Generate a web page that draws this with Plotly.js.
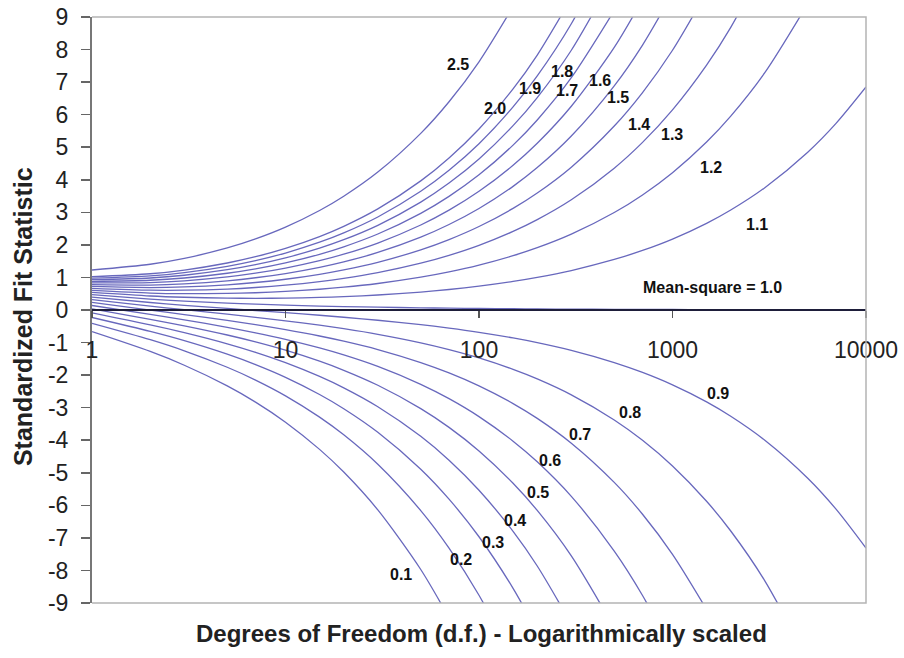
<!DOCTYPE html>
<html><head><meta charset="utf-8">
<script src="https://cdn.plot.ly/plotly-3.0.1.min.js"></script>
<style>html,body{margin:0;padding:0;background:#fff}#chart{width:904px;height:658px}</style>
</head><body><div id="chart"></div>
<script>
// Degrees of freedom (x) sample points
const df = [1,2,3,5,7,10,15,20,30,50,70,100,150,200,300,500,700,1000,1500,2000,3000,5000,7000,10000];

// Standardized fit statistic read for each mean-square curve
const ms25 = [1.229,1.405,1.585,1.905,2.183,2.545,3.056,3.494,4.236,5.425,6.396,7.625,9.319];
const ms20 = [1.023,1.113,1.227,1.444,1.637,1.893,2.257,2.571,3.106,3.966,4.670,5.561,6.792,7.831,9.577];
const ms19 = [0.978,1.049,1.149,1.342,1.517,1.750,2.082,2.369,2.858,3.645,4.291,5.108,6.237,7.190,8.792,11.337];
const ms18 = [0.931,0.983,1.067,1.237,1.393,1.601,1.900,2.159,2.601,3.313,3.898,4.638,5.662,6.526,7.979,10.287];
const ms17 = [0.882,0.914,0.983,1.129,1.264,1.447,1.711,1.941,2.334,2.969,3.490,4.151,5.065,5.837,7.135,9.198];
const ms16 = [0.831,0.842,0.895,1.015,1.130,1.287,1.515,1.714,2.057,2.611,3.066,3.645,4.445,5.121,6.259,8.066,9.536];
const ms15 = [0.778,0.767,0.804,0.897,0.990,1.120,1.311,1.478,1.767,2.237,2.625,3.117,3.798,4.374,5.344,6.885,8.139,9.722];
const ms14 = [0.723,0.689,0.708,0.774,0.844,0.945,1.097,1.232,1.465,1.847,2.163,2.565,3.122,3.594,4.388,5.651,6.680,7.978,9.764];
const ms13 = [0.665,0.608,0.608,0.644,0.691,0.762,0.873,0.973,1.148,1.438,1.679,1.986,2.413,2.775,3.385,4.357,5.148,6.146,7.521,8.682,10.628];
const ms12 = [0.604,0.521,0.502,0.508,0.530,0.570,0.637,0.700,0.814,1.007,1.169,1.377,1.667,1.913,2.330,2.994,3.535,4.219,5.161,5.956,7.290,9.407];
const ms11 = [0.540,0.430,0.391,0.364,0.359,0.366,0.387,0.412,0.461,0.551,0.629,0.732,0.877,1.001,1.213,1.552,1.829,2.179,2.663,3.072,3.758,4.847,5.732,6.850];
const ms10 = [0.471,0.333,0.272,0.211,0.178,0.149,0.122,0.105,0.086,0.067,0.056,0.047,0.039,0.033,0.027,0.021,0.018,0.015,0.012,0.011,0.009,0.007,0.006,0.005];
const ms09 = [0.398,0.230,0.145,0.047,-0.015,-0.082,-0.162,-0.222,-0.315,-0.451,-0.556,-0.685,-0.858,-1.002,-1.240,-1.615,-1.919,-2.300,-2.822,-3.263,-4.000,-5.168,-6.118,-7.314];
const ms08 = [0.319,0.118,0.009,-0.129,-0.224,-0.332,-0.467,-0.575,-0.747,-1.008,-1.216,-1.473,-1.824,-2.117,-2.606,-3.378,-4.004,-4.793,-5.876,-6.788,-8.318,-10.743];
const ms07 = [0.234,-0.003,-0.140,-0.321,-0.451,-0.603,-0.799,-0.958,-1.216,-1.615,-1.933,-2.331,-2.874,-3.330,-4.092,-5.296,-6.274,-7.505,-9.198];
const ms06 = [0.139,-0.136,-0.303,-0.532,-0.701,-0.901,-1.165,-1.380,-1.733,-2.282,-2.723,-3.274,-4.029,-4.664,-5.725,-7.405,-8.769,-10.488];
const ms05 = [0.034,-0.286,-0.486,-0.768,-0.980,-1.235,-1.573,-1.852,-2.311,-3.028,-3.605,-4.329,-5.321,-6.156,-7.553,-9.764];
const ms04 = [-0.087,-0.456,-0.695,-1.038,-1.299,-1.617,-2.041,-2.392,-2.972,-3.881,-4.615,-5.536,-6.800,-7.863,-9.643];
const ms03 = [-0.230,-0.658,-0.942,-1.357,-1.677,-2.068,-2.594,-3.031,-3.755,-4.892,-5.811,-6.965,-8.550,-9.884];
const ms02 = [-0.409,-0.912,-1.253,-1.759,-2.152,-2.636,-3.290,-3.834,-4.738,-6.161,-7.313,-8.761,-10.749];
const ms01 = [-0.665,-1.274,-1.697,-2.331,-2.829,-3.446,-4.281,-4.978,-6.140,-7.971,-9.454];

const curveNames = ['2.5','2.0','1.9','1.8','1.7','1.6','1.5','1.4','1.3','1.2','1.1','1.0','0.9','0.8','0.7','0.6','0.5','0.4','0.3','0.2','0.1'];
const curveValues = [ms25,ms20,ms19,ms18,ms17,ms16,ms15,ms14,ms13,ms12,ms11,ms10,ms09,ms08,ms07,ms06,ms05,ms04,ms03,ms02,ms01];

// Curve labels
const labelText = ['2.5','2.0','1.9','1.8','1.7','1.6','1.5','1.4','1.3','1.2','1.1','Mean-square = 1.0','0.9','0.8','0.7','0.6','0.5','0.4','0.3','0.2','0.1'];
const labelDf = [77.8,121,184,269,285,422,522,671,993,1581,2735,1600,1718,603,333,233,202,153,118,80.7,39.5];
const labelZ = [7.53,6.20,6.79,7.34,6.73,7.06,6.54,5.71,5.38,4.39,2.64,0.68,-2.58,-3.16,-3.81,-4.61,-5.62,-6.48,-7.13,-7.65,-8.11];

const xTickVals = [1,10,100,1000,10000];
const xTickText = ['1','10','100','1000','10000'];
const yTickVals = [-9,-8,-7,-6,-5,-4,-3,-2,-1,0,1,2,3,4,5,6,7,8,9];
const yTickText = ['-9','-8','-7','-6','-5','-4','-3','-2','-1','0','1','2','3','4','5','6','7','8','9'];

const FONT = 'Liberation Sans, Arial, sans-serif';
const lineColor = '#6868bd';

const traces = curveValues.map((v, i) => ({
  x: df.slice(0, v.length),
  y: v,
  name: curveNames[i],
  type: 'scatter',
  mode: 'lines',
  line: {color: lineColor, width: 1.3, shape: 'spline', smoothing: 0.8},
  hoverinfo: 'skip',
  showlegend: false
}));

const annotations = labelText.map((t, i) => ({
  x: Math.log10(labelDf[i]), y: labelZ[i], xref: 'x', yref: 'y',
  text: '<b>' + t + '</b>', showarrow: false,
  font: {family: FONT, size: 16, color: '#111'},
  xanchor: 'center', yanchor: 'middle'
}));
annotations.push({
  xref: 'paper', yref: 'paper', x: -0.0891, y: 0.488, textangle: -90,
  text: '<b>Standardized Fit Statistic</b>', showarrow: false,
  font: {family: FONT, size: 25, color: '#222'}, xanchor: 'center', yanchor: 'middle'
});
annotations.push({
  xref: 'paper', yref: 'paper', x: 0.5026, y: -0.0512,
  text: '<b>Degrees of Freedom (d.f.) - Logarithmically scaled</b>', showarrow: false,
  font: {family: FONT, size: 24, color: '#222'}, xanchor: 'center', yanchor: 'middle'
});

const layout = {
  width: 904, height: 658,
  margin: {l: 92, r: 38, t: 17, b: 55},
  paper_bgcolor: '#ffffff', plot_bgcolor: '#ffffff',
  font: {family: FONT, color: '#222'},
  showlegend: false,
  hovermode: false,
  xaxis: {
    type: 'log', range: [0, 4],
    tickvals: xTickVals, ticktext: xTickText,
    ticks: 'outside', ticklen: 7, tickwidth: 1.2, tickcolor: '#555',
    tickfont: {family: FONT, size: 23, color: '#222'},
    ticklabelstandoff: 12,
    showline: true, linecolor: '#1e1e3a', linewidth: 2,
    showgrid: false, zeroline: false,
    anchor: 'free', position: 0.5
  },
  yaxis: {
    range: [-9, 9], tickvals: yTickVals, ticktext: yTickText,
    ticks: 'outside', ticklen: 9, tickwidth: 1.5, tickcolor: '#666',
    tickfont: {family: FONT, size: 23, color: '#222'},
    ticklabelstandoff: 8,
    showline: true, linecolor: '#777', linewidth: 2,
    showgrid: false, zeroline: false
  },
  shapes: [{
    type: 'path', xref: 'paper', yref: 'paper',
    path: 'M 0 1 L 1 1 L 1 0 L 0 0',
    line: {color: '#b4b4b4', width: 1.5}
  }],
  annotations: annotations
};

Plotly.newPlot('chart', traces, layout, {staticPlot: true, displayModeBar: false});
</script>
</body></html>
